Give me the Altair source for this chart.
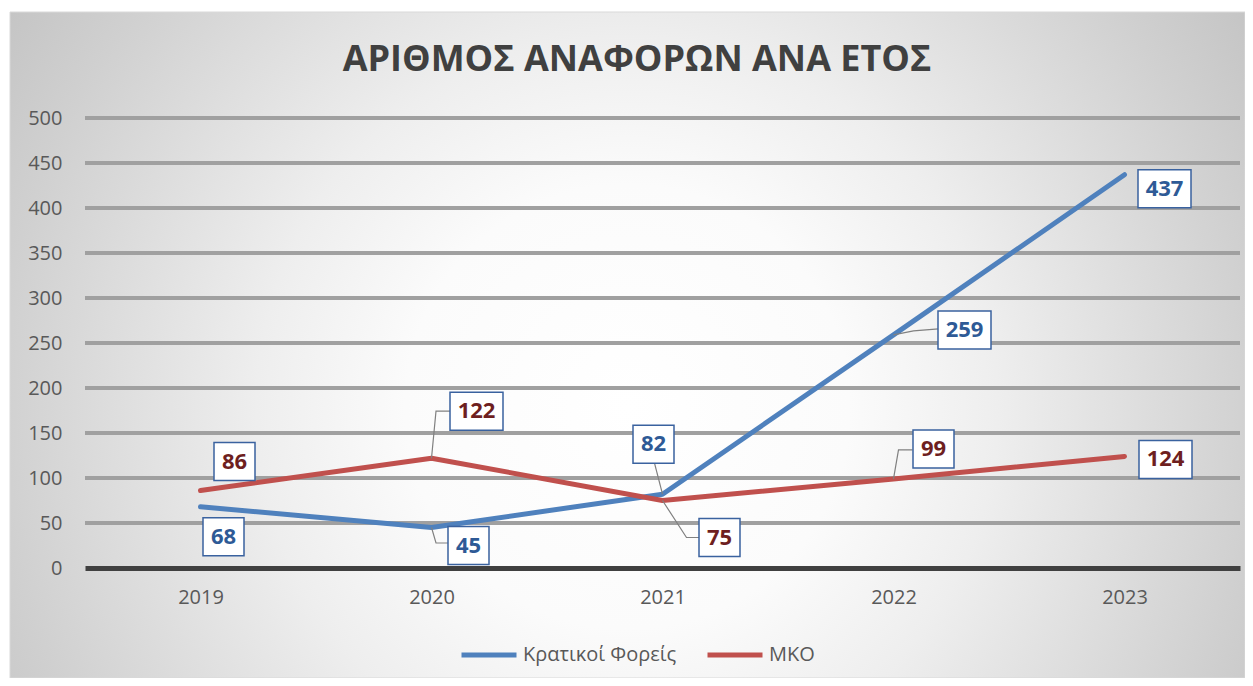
import altair as alt
import pandas as pd

# ---------------- data ----------------
years = [2019, 2020, 2021, 2022, 2023]
kratikoi = [68, 45, 82, 259, 437]
mko = [86, 122, 75, 99, 124]
series_names = ["Κρατικοί Φορείς", "ΜΚΟ"]
y_ticks = [0, 50, 100, 150, 200, 250, 300, 350, 400, 450, 500]
title_text = "ΑΡΙΘΜΟΣ ΑΝΑΦΟΡΩΝ ΑΝΑ ΕΤΟΣ"

# ---------------- layout / style ----------------
W, H = 1155, 450
XMIN, XMAX = 2018.5, 2023.5
YMAX = 500
PXY = W / (XMAX - XMIN)   # px per year
PXV = H / YMAX            # px per unit
FONT = "Open Sans"
LINE_COLORS = ["#4F81BD", "#C0504D"]
TEXT_COLORS = {"Κρατικοί Φορείς": "#2E5A96", "ΜΚΟ": "#6E1F1F"}
BOX_STROKE = "#3A629F"

# label box centre offsets from the data point, in pixels (dx right, dy down)
label_offsets = {
    ("Κρατικοί Φορείς", 2019): (23, 30),
    ("Κρατικοί Φορείς", 2020): (37, 18),
    ("Κρατικοί Φορείς", 2021): (-9, -50),
    ("Κρατικοί Φορείς", 2022): (71, -5),
    ("Κρατικοί Φορείς", 2023): (40, 14),
    ("ΜΚΟ", 2019): (34, -29),
    ("ΜΚΟ", 2020): (45, -47),
    ("ΜΚΟ", 2021): (57, 37),
    ("ΜΚΟ", 2022): (40, -30),
    ("ΜΚΟ", 2023): (41, 3),
}
# leader-line vertices after the data point, pixel offsets from the point
leader_offsets = {
    ("Κρατικοί Φορείς", 2020): [(4.5, 15.5), (16.5, 15.5)],
    ("Κρατικοί Φορείς", 2021): [(-8, -31)],
    ("Κρατικοί Φορείς", 2022): [(20, -4), (45, -6)],
    ("ΜΚΟ", 2020): [(4.5, -47), (18.5, -47)],
    ("ΜΚΟ", 2021): [(24, 37), (37, 37)],
    ("ΜΚΟ", 2022): [(5, -29), (19, -29)],
}

# ---------------- tables ----------------
line_rows, label_rows, leader_rows = [], [], []
for s, vals in zip(series_names, [kratikoi, mko]):
    for yr, v in zip(years, vals):
        line_rows.append({"year": yr, "value": v, "series": s})
        dx, dy = label_offsets[(s, yr)]
        lx = yr + dx / PXY
        ly = v - dy / PXV
        hw = 26.5 if v >= 100 else 20.5
        hh = 19
        label_rows.append({
            "series": s, "label": str(v), "lx": lx, "ly": ly,
            "bx1": lx - hw / PXY, "bx2": lx + hw / PXY,
            "by1": ly - hh / PXV, "by2": ly + hh / PXV,
        })
        if (s, yr) in leader_offsets:
            pid = f"{s}-{yr}"
            leader_rows.append({"id": pid, "ord": 0, "lx": yr, "ly": v})
            for k, (ox, oy) in enumerate(leader_offsets[(s, yr)]):
                leader_rows.append({"id": pid, "ord": k + 1,
                                    "lx": yr + ox / PXY, "ly": v - oy / PXV})

lines_df = pd.DataFrame(line_rows)
labels_df = pd.DataFrame(label_rows)
leaders_df = pd.DataFrame(leader_rows)
grid_df = pd.DataFrame({"tick": [t for t in y_ticks if t > 0]})
one = pd.DataFrame({"a": [0]})


def X(field):
    return alt.X(f"{field}:Q",
                 scale=alt.Scale(domain=[XMIN, XMAX], nice=False, zero=False),
                 axis=alt.Axis(values=years, format="d", grid=False, ticks=False,
                               title=None, labelFontSize=20, labelFont=FONT,
                               labelColor="#595959", labelPadding=19,
                               domainColor="#404040", domainWidth=5, zindex=1))


def Y(field):
    return alt.Y(f"{field}:Q",
                 scale=alt.Scale(domain=[0, YMAX], nice=False),
                 axis=alt.Axis(values=y_ticks, grid=False, ticks=False, domain=False,
                               title=None, labelFontSize=20, labelFont=FONT,
                               labelColor="#595959", labelPadding=23, zindex=1))


bg_fill = alt.RadialGradient(
    gradient="radial",
    stops=[alt.GradientStop(color="#FFFFFF", offset=0),
           alt.GradientStop(color="#FBFBFB", offset=0.3),
           alt.GradientStop(color="#EEEEEE", offset=0.5),
           alt.GradientStop(color="#D0D0D0", offset=0.85),
           alt.GradientStop(color="#C4C4C4", offset=1)],
    x1=0.5, y1=0.55, r1=0, x2=0.5, y2=0.55, r2=0.6)

background = alt.Chart(one).mark_rect(fill=bg_fill, stroke="#D9D9D9", strokeWidth=1).encode(
    x=alt.value(-75), x2=alt.value(W + 5), y=alt.value(-106), y2=alt.value(H + 110))

title = alt.Chart(one).mark_text(
    text=title_text, font=FONT, fontSize=36, fontWeight="bold", color="#404040",
    align="center", baseline="middle").encode(x=alt.value(552), y=alt.value(-58))

grid = alt.Chart(grid_df).mark_rule(color="#A0A0A0", strokeWidth=4).encode(
    y=Y("tick"), x=alt.value(0), x2=alt.value(W))

lines = alt.Chart(lines_df).mark_line(strokeWidth=5, strokeCap="round", strokeJoin="round").encode(
    x=X("year"), y=Y("value"),
    color=alt.Color("series:N",
                    scale=alt.Scale(domain=series_names, range=LINE_COLORS),
                    legend=alt.Legend(orient="none", legendX=374, legendY=507,
                                      direction="horizontal", title=None,
                                      symbolType="stroke", symbolStrokeWidth=5,
                                      symbolSize=3025, labelFontSize=20,
                                      labelFont=FONT, labelColor="#595959",
                                      columnPadding=20, labelOffset=4, zindex=1)))

leaders = alt.Chart(leaders_df).mark_line(color="#808080", strokeWidth=1.2).encode(
    x=X("lx"), y=Y("ly"), detail="id:N", order="ord:Q")

boxes = alt.Chart(labels_df).mark_rect(fill="white", stroke=BOX_STROKE, strokeWidth=1.5).encode(
    x=X("bx1"), x2="bx2", y=Y("by1"), y2="by2")

texts = []
for s in series_names:
    texts.append(
        alt.Chart(labels_df[labels_df["series"] == s]).mark_text(
            font=FONT, fontSize=22, fontWeight="bold", color=TEXT_COLORS[s],
            align="center", baseline="middle").encode(
            x=X("lx"), y=Y("ly"), text="label:N"))

chart = alt.layer(background, title, grid, lines, leaders, boxes, *texts).properties(
    width=W, height=H,
    autosize=alt.AutoSizeParams(type="none"),
    padding={"left": 77, "top": 110, "right": 5, "bottom": 110},
).configure_view(stroke=None)

chart.save("out.html", embed_options={"renderer": "svg", "actions": False})
